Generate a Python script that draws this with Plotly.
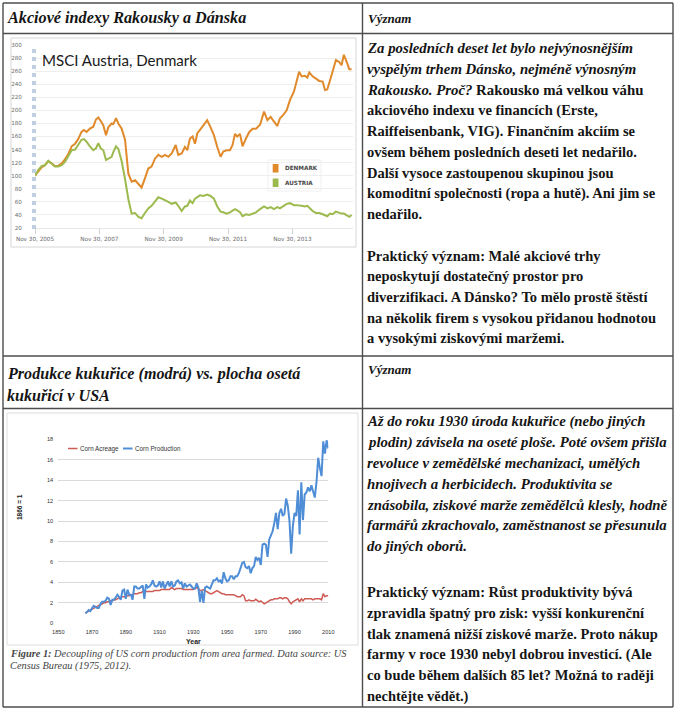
import plotly.graph_objects as go

W, H = 680, 713


def px(x):
    return x / W


def py(y):
    return 1 - y / H


# ---------------- Data: MSCI Austria, Denmark ----------------
msci_dates = [
    "2005-11-30", "2006-01-07", "2006-02-15", "2006-03-22", "2006-04-30", "2006-06-07",
    "2006-07-14", "2006-08-21", "2006-09-29", "2006-11-05", "2006-12-13", "2007-01-20",
    "2007-02-28", "2007-04-05", "2007-05-12", "2007-06-08", "2007-07-08", "2007-08-15",
    "2007-09-23", "2007-10-23", "2007-11-19", "2007-12-15", "2008-01-15", "2008-02-14",
    "2008-03-11", "2008-04-18", "2008-05-07", "2008-06-07", "2008-07-03", "2008-08-10",
    "2008-09-17", "2008-10-25", "2008-12-01", "2009-01-09", "2009-02-16", "2009-03-24",
    "2009-05-01", "2009-06-08", "2009-07-15", "2009-08-23", "2009-09-30", "2009-11-08",
    "2009-12-15", "2010-01-22", "2010-03-01", "2010-04-15", "2010-05-14", "2010-06-22",
    "2010-07-29", "2010-08-25", "2010-09-24", "2010-10-24", "2010-11-20", "2010-12-17",
    "2011-01-16", "2011-02-24", "2011-04-08", "2011-05-16", "2011-06-23", "2011-07-31",
    "2011-09-07", "2011-10-07", "2011-11-14", "2011-12-22", "2012-01-21", "2012-02-17",
    "2012-03-14", "2012-04-14", "2012-05-13", "2012-06-21", "2012-07-29", "2012-09-05",
    "2012-10-13", "2012-11-28", "2013-01-12", "2013-02-20", "2013-03-28", "2013-05-04",
    "2013-06-12", "2013-07-12", "2013-08-19", "2013-09-26", "2013-11-03", "2013-12-18",
    "2014-01-17", "2014-02-14", "2014-03-15", "2014-04-22", "2014-05-18", "2014-06-10",
    "2014-07-17", "2014-08-25", "2014-10-01", "2014-11-09", "2014-12-05", "2014-12-31",
    "2015-01-31", "2015-03-01", "2015-04-08", "2015-05-15", "2015-06-11", "2015-07-07",
    "2015-08-15", "2015-09-07", "2015-10-03",
]
denmark_values = [
    100, 106, 113, 116, 122, 119, 115, 115, 119, 125, 133, 145,
    149, 156, 167, 170, 167, 172, 175, 186, 189, 184, 177, 162,
    174, 180, 179, 188, 180, 172, 155, 103, 91, 93, 88, 82,
    96, 111, 114, 126, 132, 129, 132, 129, 134, 147, 132, 134,
    144, 139, 157, 160, 149, 165, 170, 178, 185, 174, 162, 144,
    129, 137, 139, 139, 147, 164, 160, 164, 145, 157, 167, 172,
    172, 178, 198, 185, 190, 183, 176, 188, 193, 200, 216, 229,
    246, 259, 252, 253, 250, 258, 252, 248, 245, 244, 231, 232,
    248, 259, 277, 274, 269, 285, 272, 263, 263,
]
austria_values = [
    100, 109, 115, 116, 123, 118, 114, 114, 116, 121, 129, 139,
    140, 147, 155, 156, 152, 145, 139, 142, 150, 142, 139, 124,
    126, 129, 136, 145, 141, 122, 95, 64, 42, 43, 37, 35,
    43, 50, 54, 60, 67, 65, 63, 60, 57, 59, 54, 46,
    53, 54, 62, 58, 65, 68, 70, 69, 71, 69, 65, 53,
    45, 44, 42, 44, 47, 49, 47, 44, 38, 41, 40, 42,
    44, 49, 53, 50, 52, 49, 52, 50, 54, 57, 58, 55,
    55, 55, 54, 53, 54, 51, 46, 43, 43, 41, 39, 38,
    42, 41, 45, 43, 42, 42, 39, 37, 40,
]
msci_tick_vals = ["2005-11-30", "2007-11-30", "2009-11-30", "2011-11-30", "2013-11-30"]
msci_tick_text = ["Nov 30, 2005", "Nov 30, 2007", "Nov 30, 2009", "Nov 30, 2011", "Nov 30, 2013"]
msci_series_names = ["DENMARK", "AUSTRIA"]

# ---------------- Data: US corn ----------------
corn_years = list(range(1866, 2011))
corn_production = [
    1.0, 1.1, 1.3, 1.2, 1.5, 1.7, 1.6, 1.5, 1.5, 1.9,   # 1866-1875
    2.1, 2.1, 2.2, 2.5, 2.4, 1.8, 2.3, 2.3, 2.5, 2.8,   # 1876-1885
    2.6, 2.3, 3.2, 3.3, 2.4, 3.3, 2.8, 2.8, 2.3, 3.6,   # 1886-1895
    3.6, 3.4, 3.4, 3.6, 3.7, 2.4, 3.8, 3.5, 3.6, 3.8,   # 1896-1905
    4.2, 3.7, 3.6, 3.7, 4.1, 3.5, 4.1, 3.4, 3.7, 4.1,   # 1906-1915
    3.6, 4.1, 3.6, 3.7, 4.1, 4.2, 3.9, 4.0, 3.4, 3.9,   # 1916-1925
    3.6, 3.7, 3.8, 3.6, 3.4, 3.4, 3.9, 3.5, 2.1, 3.2,   # 1926-1935
    2.0, 3.5, 3.6, 3.5, 3.4, 3.8, 4.2, 4.2, 4.4, 4.1,   # 1936-1945
    4.2, 3.9, 5.0, 4.4, 4.1, 4.2, 4.6, 4.6, 4.3, 4.6,   # 1946-1955
    4.6, 4.9, 5.4, 5.9, 6.0, 5.5, 5.4, 5.6, 4.9, 5.4,   # 1956-1965
    5.6, 6.5, 6.2, 6.4, 5.7, 7.7, 7.8, 7.7, 6.5, 8.2,   # 1966-1975
    8.6, 9.0, 9.8, 10.8, 9.2, 10.8, 11.2, 10.5, 10.7, 12.2,  # 1976-1985
    11.5, 10.0, 6.8, 9.5, 10.8, 10.5, 13.0, 8.7, 13.8, 10.1,  # 1986-1995
    12.6, 12.8, 13.3, 12.9, 13.5, 13.0, 12.3, 13.8, 16.2, 15.2,  # 1996-2005
    14.4, 17.8, 16.6, 17.9, 17.1,                        # 2006-2010
]
corn_acreage = [
    1.0, 1.1, 1.2, 1.25, 1.4, 1.5, 1.6, 1.7, 1.75, 1.8,  # 1866-1875
    1.9, 2.0, 2.0, 2.1, 2.1, 2.2, 2.2, 2.3, 2.3, 2.4,    # 1876-1885
    2.5, 2.5, 2.6, 2.6, 2.6, 2.7, 2.7, 2.8, 2.8, 2.9,    # 1886-1895
    2.9, 2.9, 3.0, 3.0, 3.1, 3.1, 3.1, 3.1, 3.1, 3.1,    # 1896-1905
    3.1, 3.2, 3.2, 3.2, 3.2, 3.3, 3.3, 3.3, 3.3, 3.3,    # 1906-1915
    3.3, 3.5, 3.4, 3.3, 3.4, 3.4, 3.4, 3.4, 3.3, 3.3,    # 1916-1925
    3.3, 3.3, 3.3, 3.3, 3.3, 3.4, 3.5, 3.4, 3.2, 3.2,    # 1926-1935
    3.3, 3.2, 3.1, 3.0, 2.9, 2.9, 3.0, 3.1, 3.2, 3.1,    # 1936-1945
    3.0, 2.9, 2.9, 2.8, 2.8, 2.8, 2.8, 2.8, 2.8, 2.7,    # 1946-1955
    2.6, 2.6, 2.6, 2.8, 2.7, 2.2, 2.2, 2.3, 2.2, 2.2,    # 1956-1965
    2.2, 2.35, 2.2, 2.1, 2.2, 2.0, 1.9, 2.0, 2.1, 2.2,   # 1966-1975
    2.3, 2.3, 2.4, 2.4, 2.4, 2.5, 2.5, 2.4, 2.5, 2.5,    # 1976-1985
    2.4, 2.1, 1.9, 2.1, 2.2, 2.3, 2.4, 2.1, 2.4, 2.2,    # 1986-1995
    2.4, 2.4, 2.4, 2.4, 2.4, 2.3, 2.4, 2.4, 2.4, 2.4,    # 1996-2005
    2.3, 2.9, 2.6, 2.7, 2.7,                             # 2006-2010
]
corn_series_names = ["Corn Acreage", "Corn Production"]
corn_x_ticks = [1850, 1870, 1890, 1910, 1930, 1950, 1970, 1990, 2010]

# ---------------- Texts ----------------
header_left_1 = "Akciové indexy Rakousky a Dánska"
header_right = "Význam"
header_left_2 = ["Produkce kukuřice (modrá) vs. plocha osetá", "kukuřicí v USA"]
chart1_title = "MSCI Austria, Denmark"
caption_lines = [
    "<b>Figure 1:</b> Decoupling of US corn production from area farmed. Data source: US",
    "Census Bureau (1975, 2012).",
]
text_block_1 = [
    ("<b><i>Za posledních deset let bylo nejvýnosnějším</i></b>", 48.3),
    ("<b><i>vyspělým trhem Dánsko, nejméně výnosným</i></b>", 69.0),
    ("<b><i>Rakousko. Proč?</i> Rakousko má velkou váhu</b>", 89.7),
    ("<b>akciového indexu ve financích (Erste,</b>", 110.4),
    ("<b>Raiffeisenbank, VIG). Finančním akciím se</b>", 131.1),
    ("<b>ovšem během posledních deseti let nedařilo.</b>", 151.8),
    ("<b>Další vysoce zastoupenou skupinou jsou</b>", 172.5),
    ("<b>komoditní společnosti (ropa a hutě). Ani jim se</b>", 193.2),
    ("<b>nedařilo.</b>", 213.9),
    ("<b>Praktický význam: Malé akciové trhy</b>", 255.7),
    ("<b>neposkytují dostatečný prostor pro</b>", 276.4),
    ("<b>diverzifikaci. A Dánsko? To mělo prostě štěstí</b>", 297.1),
    ("<b>na několik firem s vysokou přidanou hodnotou</b>", 317.8),
    ("<b>a vysokými ziskovými maržemi.</b>", 338.5),
]
text_block_2 = [
    ("<b><i>Až do roku 1930 úroda kukuřice (nebo jiných</i></b>", 421.7),
    ("<b><i>plodin) závisela na oseté ploše. Poté ovšem přišla</i></b>", 442.4),
    ("<b><i>revoluce v zemědělské mechanizaci, umělých</i></b>", 463.1),
    ("<b><i>hnojivech a herbicidech. Produktivita se</i></b>", 483.8),
    ("<b><i>znásobila, ziskové marže zemědělců klesly, hodně</i></b>", 504.5),
    ("<b><i>farmářů zkrachovalo, zaměstnanost se přesunula</i></b>", 525.2),
    ("<b><i>do jiných oborů.</i></b>", 545.9),
    ("<b>Praktický význam: Růst produktivity bývá</b>", 592.0),
    ("<b>zpravidla špatný pro zisk: vyšší konkurenční</b>", 612.9),
    ("<b>tlak znamená nižší ziskové marže. Proto nákup</b>", 633.7),
    ("<b>farmy v roce 1930 nebyl dobrou investicí. (Ale</b>", 654.5),
    ("<b>co bude během dalších 85 let? Možná to raději</b>", 675.3),
    ("<b>nechtějte vědět.)</b>", 696.1),
]

# ---------------- Styles ----------------
DK_COLOR = "#e08a2b"
AT_COLOR = "#9dba4e"
ACR_COLOR = "#cf5b55"
PROD_COLOR = "#4f8ed6"
SERIF = "Liberation Serif"
BORDER = "#4d4d4d"

fig = go.Figure()

fig.add_trace(go.Scatter(x=msci_dates, y=denmark_values, mode="lines", name=msci_series_names[0],
                         line=dict(color=DK_COLOR, width=2), xaxis="x", yaxis="y"))
fig.add_trace(go.Scatter(x=msci_dates, y=austria_values, mode="lines", name=msci_series_names[1],
                         line=dict(color=AT_COLOR, width=2), xaxis="x", yaxis="y"))
fig.add_trace(go.Scatter(x=corn_years, y=corn_acreage, mode="lines", name=corn_series_names[0],
                         line=dict(color=ACR_COLOR, width=1.5), xaxis="x2", yaxis="y2"))
fig.add_trace(go.Scatter(x=corn_years, y=corn_production, mode="lines", name=corn_series_names[1],
                         line=dict(color=PROD_COLOR, width=2), xaxis="x2", yaxis="y2"))

# chart 1 plot area: x 35..353, y 45..228 ; chart 2: x 58.3..328.3, y 439.3..623.3
fig.update_layout(
    template="none",
    width=W, height=H, margin=dict(l=0, r=0, t=0, b=0, pad=0, autoexpand=False),
    paper_bgcolor="white", plot_bgcolor="white", showlegend=False,
    xaxis=dict(domain=[px(35), px(353)], type="date", range=["2005-11-30", "2015-10-19"],
               tickvals=msci_tick_vals, ticktext=msci_tick_text, showgrid=False, zeroline=False,
               ticks="outside", ticklen=5, tickcolor="#d0d0d0", showline=True, linecolor="#e6e6e6",
               automargin=False,
               tickfont=dict(family="DejaVu Sans", size=5.7, color="#6b6b6b"), anchor="y"),
    yaxis=dict(domain=[py(228), py(45)], range=[20, 300], dtick=20, tick0=20,
               showgrid=True, gridcolor="#eeeeee", gridwidth=1, zeroline=False, showline=False,
               ticks="outside", ticklen=11, tickcolor="rgba(0,0,0,0)", automargin=False,
               tickfont=dict(family="DejaVu Sans", size=5.6, color="#6b6b6b"), anchor="x"),
    xaxis2=dict(domain=[px(58.3), px(328.3)], range=[1850, 2010], tickvals=corn_x_ticks,
                showgrid=False, zeroline=False, showline=False, automargin=False,
                ticks="outside", ticklen=3, tickcolor="rgba(0,0,0,0)",
                tickfont=dict(family="Liberation Sans", size=5.6, color="#333333"), anchor="y2"),
    yaxis2=dict(domain=[py(623.3), py(439.3)], range=[0, 18], dtick=2, tick0=0,
                showgrid=True, gridcolor="#dadada", gridwidth=1, zeroline=False, showline=False,
                ticks="outside", ticklen=3, tickcolor="rgba(0,0,0,0)", automargin=False,
                tickfont=dict(family="Liberation Sans", size=5.6, color="#333333"), anchor="x2"),
)

shapes = []
# table borders
for (x0, y0, x1, y1) in [
    (3, 3, 673, 3), (3, 707, 673, 707), (3, 3, 3, 707), (673, 3, 673, 707),
    (362.5, 3, 362.5, 707), (3, 33.5, 673, 33.5), (3, 356, 673, 356), (3, 408.5, 673, 408.5),
]:
    shapes.append(dict(type="line", xref="paper", yref="paper", x0=px(x0), y0=py(y0), x1=px(x1), y1=py(y1),
                       line=dict(color=BORDER, width=1.4), layer="above"))
# chart frames
shapes.append(dict(type="rect", xref="paper", yref="paper", x0=px(11), y0=py(247), x1=px(356), y1=py(38),
                   line=dict(color="#d6d6d6", width=1), layer="below"))
shapes.append(dict(type="rect", xref="paper", yref="paper", x0=px(7), y0=py(645), x1=px(358), y1=py(413),
                   line=dict(color="#dddddd", width=1), layer="below"))
# dotted y-axis band of chart 1
shapes.append(dict(type="line", xref="paper", yref="paper", x0=px(34), y0=py(229), x1=px(34), y1=py(45),
                   line=dict(color="#c0cee2", width=4, dash="dot"), layer="above"))
# chart 1 legend box and swatches
shapes.append(dict(type="rect", xref="paper", yref="paper", x0=px(268), y0=py(191), x1=px(321), y1=py(160),
                   line=dict(color="#efefef", width=1), fillcolor="white", layer="below"))
shapes.append(dict(type="rect", xref="paper", yref="paper", x0=px(272.7), y0=py(172.5), x1=px(278.5), y1=py(164),
                   line=dict(width=0), fillcolor=DK_COLOR))
shapes.append(dict(type="rect", xref="paper", yref="paper", x0=px(272.7), y0=py(187), x1=px(278.5), y1=py(178.5),
                   line=dict(width=0), fillcolor=AT_COLOR))
# chart 2 legend swatches
shapes.append(dict(type="line", xref="paper", yref="paper", x0=px(68), y0=py(448.5), x1=px(77.5), y1=py(448.5),
                   line=dict(color=ACR_COLOR, width=1.5)))
shapes.append(dict(type="line", xref="paper", yref="paper", x0=px(123), y0=py(448.5), x1=px(132.5), y1=py(448.5),
                   line=dict(color=PROD_COLOR, width=2)))

ann = []


def text(t, x, y, size, family=SERIF, color="#151515", xanchor="left", angle=0):
    ann.append(dict(text=t, x=px(x), y=py(y), xref="paper", yref="paper", showarrow=False,
                    xanchor=xanchor, yanchor="middle", textangle=angle, borderpad=0,
                    font=dict(family=family, size=size, color=color)))


text("<b><i>%s</i></b>" % header_left_1, 6, 18.5, 16.2)
text("<b><i>%s</i></b>" % header_right, 367, 18.5, 13)
text("<b><i>%s</i></b>" % header_left_2[0], 6, 373.5, 16.1)
text("<b><i>%s</i></b>" % header_left_2[1], 6, 395.5, 16.1)
text("<b><i>%s</i></b>" % header_right, 367, 369, 13)
for t, y in text_block_1 + text_block_2:
    size = 14.8 if t.startswith("<b><i>") else 14.5
    text(t, 365.5, y, size)

text(chart1_title, 41, 60, 15.1, family="Lato", color="#1a1a1a")
text("<b>%s</b>" % msci_series_names[0], 283.5, 168.3, 5.7, family="DejaVu Sans", color="#4a4a4a")
text("<b>%s</b>" % msci_series_names[1], 283.5, 182.7, 5.7, family="DejaVu Sans", color="#4a4a4a")

text(corn_series_names[0], 78.5, 448.5, 6.3, family="Liberation Sans", color="#333333")
text(corn_series_names[1], 133.5, 448.5, 6.3, family="Liberation Sans", color="#333333")
text("<b>Year</b>", 193, 641.5, 7, family="Liberation Sans", color="#222222", xanchor="center")
text("<b>1866 = 1</b>", 20, 507, 6.5, family="Liberation Sans", color="#222222", xanchor="center", angle=-90)

text("<i>%s</i>" % caption_lines[0], 9, 653.5, 10.35, color="#444444")
text("<i>%s</i>" % caption_lines[1], 9, 665.5, 10.35, color="#444444")

fig.update_layout(shapes=shapes, annotations=ann)
fig.write_html(
    "out.html",
    config={"displayModeBar": False},
    post_script="document.body.style.margin='0';document.body.style.overflow='hidden';",
)
